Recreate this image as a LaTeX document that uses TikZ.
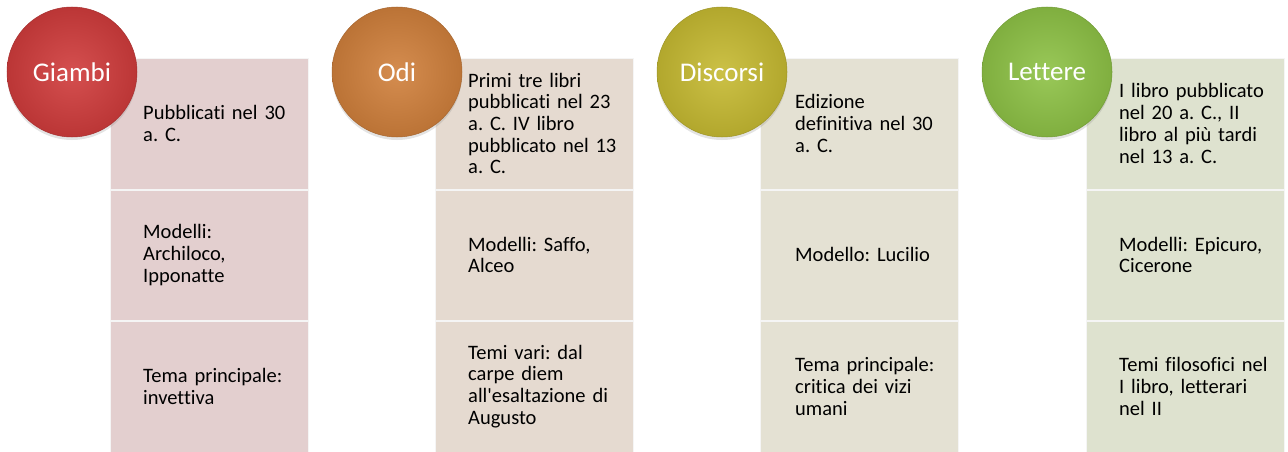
\documentclass[tikz,border=0pt]{standalone}
\usepackage{fontspec}
\setmainfont{Carlito}[Ligatures=NoCommon]
\usetikzlibrary{positioning,shadows}
\frenchspacing

\definecolor{redball}{RGB}{208,60,60}
\definecolor{orangeball}{RGB}{208,128,60}
\definecolor{yellowball}{RGB}{198,186,50}
\definecolor{greenball}{RGB}{142,194,70}
\definecolor{redbox}{RGB}{227,207,207}
\definecolor{orangebox}{RGB}{229,218,208}
\definecolor{yellowbox}{RGB}{228,225,211}
\definecolor{greenbox}{RGB}{222,226,207}

\begin{document}
\begin{tikzpicture}[
  x=1pt, y=-1pt,
  every node/.style={align=left},
  ball/.style={circle, minimum size=130pt, inner sep=0pt, shading=radial,
    inner color=#1!90!white, outer color=#1!90!black, draw=#1!80!black, line width=0.5pt,
    drop shadow={opacity=0.22, shadow xshift=0pt, shadow yshift=-3pt},
    text=white, font=\fontsize{27}{30}\selectfont},
  cell/.style={rectangle, minimum width=198pt, minimum height=130.5pt, inner sep=0pt,
    anchor=north west, fill=#1, draw=black!4, line width=0.4pt,
    drop shadow={opacity=0.12, shadow xshift=1pt, shadow yshift=-1pt}},
  txt/.style={text width=170pt, inner sep=0pt, font=\fontsize{20.5}{21.7}\selectfont}
]
\useasboundingbox (0,0) rectangle (1288,452);

% Giambi
\node[cell=redbox] (g1a) at (110,58) {};
\node[cell=redbox] (g1b) at (110,189.5) {};
\node[cell=redbox] (g1c) at (110,321) {};
\node[txt, right=33pt of g1a.west] {Pubblicati nel 30\\a. C.};
\node[txt, right=33pt of g1b.west] {Modelli:\\Archiloco,\\Ipponatte};
\node[txt, right=33pt of g1c.west] {Tema principale:\\invettiva};
\node[ball=redball] (giambi) at (72,72) {Giambi};

% Odi
\node[cell=orangebox] (g2a) at (435,58) {};
\node[cell=orangebox] (g2b) at (435,189.5) {};
\node[cell=orangebox] (g2c) at (435,321) {};
\node[txt, right=33pt of g2a.west] {Primi tre libri\\pubblicati nel 23\\a. C. IV libro\\pubblicato nel 13\\a. C.};
\node[txt, right=33pt of g2b.west] {Modelli: Saffo,\\Alceo};
\node[txt, right=33pt of g2c.west] {Temi vari: dal\\carpe diem\\all\textquotesingle esaltazione di\\Augusto};
\node[ball=orangeball] (odi) at (397,72) {Odi};

% Discorsi
\node[cell=yellowbox] (g3a) at (760,58) {};
\node[cell=yellowbox] (g3b) at (760,189.5) {};
\node[cell=yellowbox] (g3c) at (760,321) {};
\node[txt, right=35pt of g3a.west] {Edizione\\definitiva nel 30\\a. C.};
\node[txt, right=35pt of g3b.west] {Modello: Lucilio};
\node[txt, right=35pt of g3c.west] {Tema principale:\\critica dei vizi\\umani};
\node[ball=yellowball] (discorsi) at (722,72) {Discorsi};

% Lettere
\node[cell=greenbox] (g4a) at (1086,58) {};
\node[cell=greenbox] (g4b) at (1086,189.5) {};
\node[cell=greenbox] (g4c) at (1086,321) {};
\node[txt, right=33pt of g4a.west] {I libro pubblicato\\nel 20 a. C., II\\libro al più tardi\\nel 13 a. C.};
\node[txt, right=33pt of g4b.west] {Modelli: Epicuro,\\Cicerone};
\node[txt, right=33pt of g4c.west] {Temi filosofici nel\\I libro, letterari\\nel II};
\node[ball=greenball] (lettere) at (1047,72) {Lettere};
\end{tikzpicture}
\end{document}
